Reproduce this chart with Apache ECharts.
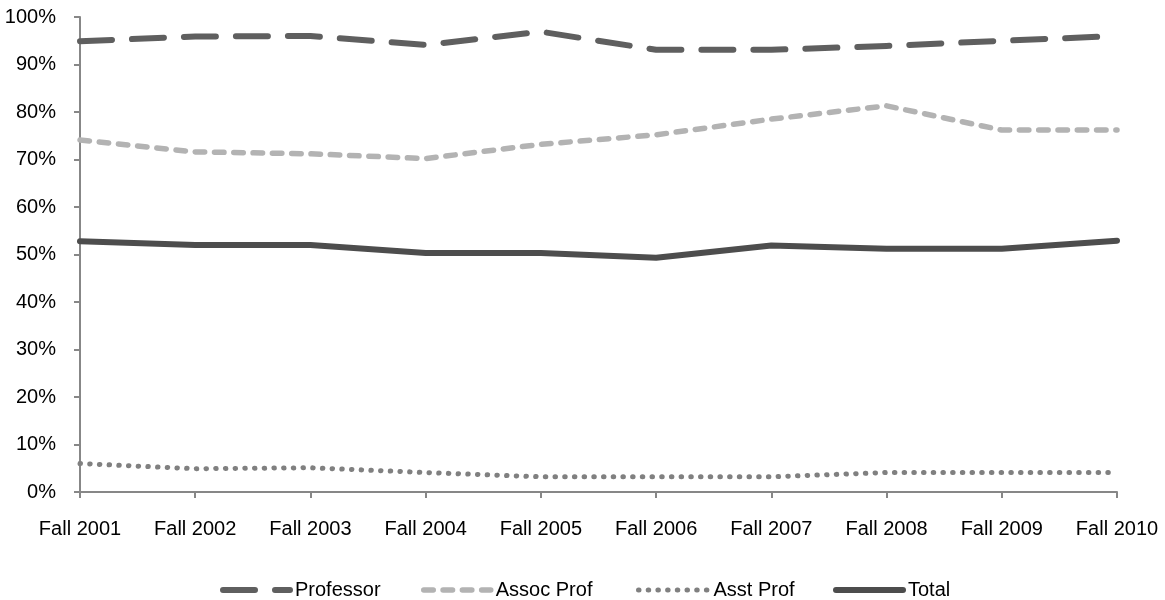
<!DOCTYPE html>
<html>
<head>
<meta charset="utf-8">
<script src="https://cdn.jsdelivr.net/npm/echarts@6/dist/echarts.min.js"></script>
<style>
html,body{margin:0;padding:0;background:#fff;}
#chart{width:1165px;height:600px;}
</style>
</head>
<body>
<div id="chart"></div>
<script>
const categories = ['Fall 2001','Fall 2002','Fall 2003','Fall 2004','Fall 2005','Fall 2006','Fall 2007','Fall 2008','Fall 2009','Fall 2010'];
const professor = [94.9, 95.9, 96.0, 94.1, 96.9, 93.1, 93.1, 93.9, 95.0, 96.0];
const assocProf = [74.1, 71.6, 71.2, 70.2, 73.2, 75.2, 78.5, 81.3, 76.2, 76.2];
const asstProf  = [6.0, 4.9, 5.1, 4.1, 3.2, 3.2, 3.2, 4.1, 4.1, 4.1];
const total     = [52.8, 52.0, 52.0, 50.3, 50.3, 49.3, 51.9, 51.2, 51.2, 52.9];
const seriesNames = ['Professor', 'Assoc Prof', 'Asst Prof', 'Total'];

const FONT = '"Liberation Sans", Arial, sans-serif';
const styles = [
  {color:'#5f5f5f', width:6,   type:[32,20],   cap:'round'},
  {color:'#b3b3b3', width:5.5, type:[9.5,9.8], cap:'round'},
  {color:'#808080', width:5,   type:[0.5,9.2], cap:'round'},
  {color:'#4d4d4d', width:6,   type:'solid',   cap:'round'}
];
const dataArr = [professor, assocProf, asstProf, total];
const legendPos = [
  {left:220, itemWidth:67},
  {left:421, itemWidth:67},
  {left:636, itemWidth:70},
  {left:833, itemWidth:67}
];

const chart = echarts.init(document.getElementById('chart'), null, {renderer:'canvas'});
chart.setOption({
  animation:false,
  backgroundColor:'#fff',
  grid:{left:80, right:48, top:17, bottom:108},
  legend: seriesNames.map((n,i)=>({
    data:[n],
    left:legendPos[i].left,
    top:580,
    itemWidth:legendPos[i].itemWidth,
    itemHeight:14,
    padding:0,
    selectedMode:false,
    itemStyle:{color:'rgba(0,0,0,0)', borderWidth:0, opacity:0},
    lineStyle:{color:styles[i].color, width:styles[i].width, type:styles[i].type, cap:styles[i].cap},
    textStyle:{fontFamily:FONT, fontSize:20, color:'#000'}
  })),
  xAxis:{
    type:'category',
    data:categories,
    boundaryGap:false,
    axisLine:{lineStyle:{color:'#878787', width:2}},
    axisTick:{show:true, length:6, lineStyle:{color:'#878787', width:2}},
    axisLabel:{fontFamily:FONT, fontSize:20, color:'#000', margin:27, interval:0}
  },
  yAxis:{
    type:'value',
    min:0, max:100, interval:10,
    axisLine:{show:true, lineStyle:{color:'#878787', width:2}},
    axisTick:{show:true, length:6, lineStyle:{color:'#878787', width:2}},
    splitLine:{show:false},
    axisLabel:{fontFamily:FONT, fontSize:20, color:'#000', margin:24, formatter:'{value}%'}
  },
  series: seriesNames.map((n,i)=>({
    name:n,
    type:'line',
    data:dataArr[i],
    symbol:'none',
    showSymbol:false,
    lineStyle:{color:styles[i].color, width:styles[i].width, type:styles[i].type, cap:styles[i].cap, join:'round'},
    itemStyle:{color:styles[i].color}
  }))
});
</script>
</body>
</html>
